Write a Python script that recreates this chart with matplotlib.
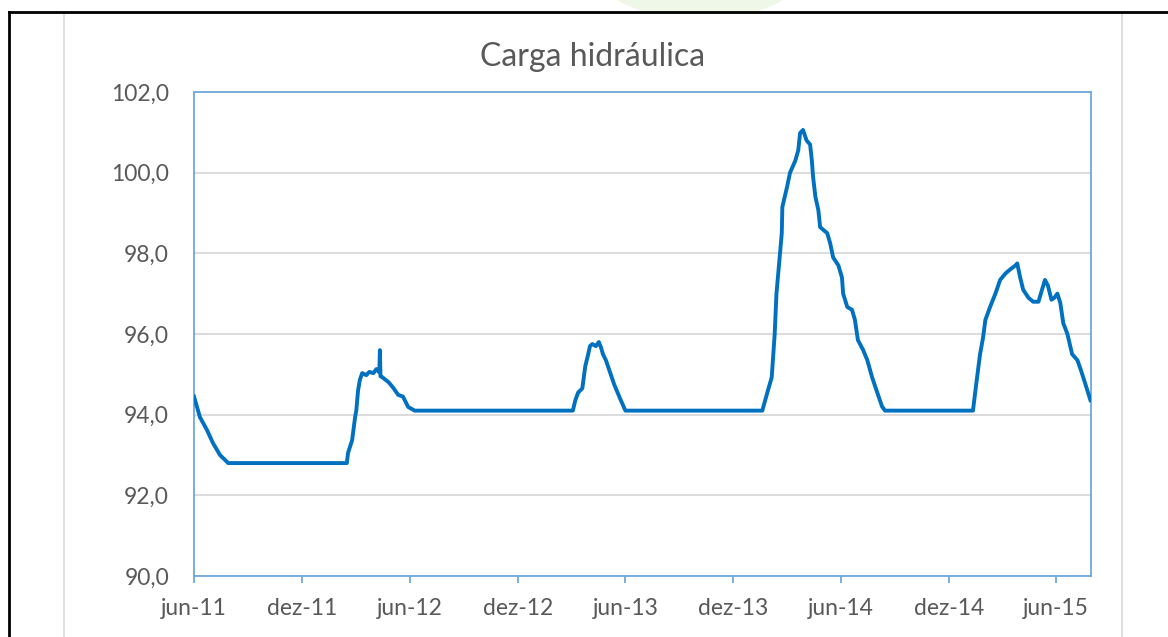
import matplotlib
matplotlib.use("Agg")
import matplotlib.pyplot as plt
import matplotlib.dates as mdates
from matplotlib.patches import Rectangle, Ellipse
from matplotlib.lines import Line2D
from matplotlib.ticker import FuncFormatter
import pandas as pd

# ---- data ----
dates = [
    "2011-06-01", "2011-06-11", "2011-06-23", "2011-07-03", "2011-07-15", "2011-07-29",
    "2012-02-15", "2012-02-17", "2012-02-24", "2012-02-29", "2012-03-02", "2012-03-05",
    "2012-03-08", "2012-03-12", "2012-03-19", "2012-03-24", "2012-03-31", "2012-04-05",
    "2012-04-10", "2012-04-11", "2012-04-12", "2012-04-15", "2012-04-26", "2012-05-04",
    "2012-05-12", "2012-05-20", "2012-05-29", "2012-06-09",
    "2013-03-04", "2013-03-08", "2013-03-13", "2013-03-20", "2013-03-25", "2013-03-30",
    "2013-04-02", "2013-04-06", "2013-04-12", "2013-04-17", "2013-04-21", "2013-04-24",
    "2013-04-29", "2013-05-06", "2013-05-13", "2013-05-23", "2013-06-01",
    "2014-01-19", "2014-01-27", "2014-02-04", "2014-02-09", "2014-02-12", "2014-02-17",
    "2014-02-21", "2014-02-22", "2014-03-02", "2014-03-07", "2014-03-16", "2014-03-21",
    "2014-03-24", "2014-03-29", "2014-04-04", "2014-04-10", "2014-04-13", "2014-04-15",
    "2014-04-19", "2014-04-24", "2014-04-27", "2014-05-09", "2014-05-14", "2014-05-19",
    "2014-05-28", "2014-06-03", "2014-06-05", "2014-06-12", "2014-06-20", "2014-06-25",
    "2014-06-30", "2014-07-09", "2014-07-16", "2014-07-24", "2014-08-02", "2014-08-10",
    "2014-08-15",
    "2015-01-11", "2015-01-16", "2015-01-23", "2015-01-28", "2015-02-01", "2015-02-09",
    "2015-02-18", "2015-02-26", "2015-03-07", "2015-03-15", "2015-03-24", "2015-03-27",
    "2015-04-01", "2015-04-06", "2015-04-15", "2015-04-23", "2015-05-02", "2015-05-08",
    "2015-05-13", "2015-05-18", "2015-05-24", "2015-05-29", "2015-06-03", "2015-06-08",
    "2015-06-13", "2015-06-20", "2015-06-28", "2015-07-07", "2015-07-13", "2015-07-20",
    "2015-07-29",
]
values = [
    94.45, 93.94, 93.62, 93.30, 93.00, 92.80,
    92.80, 93.05, 93.37, 93.94, 94.10, 94.60,
    94.86, 95.03, 94.98, 95.06, 95.03, 95.13,
    95.05, 95.60, 94.95, 94.93, 94.80, 94.66,
    94.49, 94.45, 94.19, 94.10,
    94.10, 94.35, 94.55, 94.65, 95.20, 95.50,
    95.70, 95.75, 95.70, 95.80, 95.65, 95.50,
    95.35, 95.05, 94.75, 94.40, 94.10,
    94.10, 94.52, 94.93, 96.00, 97.00, 97.83,
    98.50, 99.15, 99.65, 100.00, 100.30, 100.56,
    100.98, 101.06, 100.80, 100.70, 100.30, 99.90,
    99.40, 99.07, 98.65, 98.50, 98.25, 97.90,
    97.70, 97.40, 97.00, 96.67, 96.60, 96.35,
    95.85, 95.60, 95.35, 94.93, 94.54, 94.20,
    94.10,
    94.10, 94.70, 95.50, 95.90, 96.35, 96.67,
    97.00, 97.34, 97.50, 97.60, 97.70, 97.75,
    97.40, 97.10, 96.90, 96.80, 96.80, 97.10,
    97.34, 97.20, 96.85, 96.90, 97.00, 96.77,
    96.27, 96.00, 95.50, 95.35, 95.10, 94.78,
    94.36,
]
tick_dates = ["2011-06-01", "2011-12-01", "2012-06-01", "2012-12-01", "2013-06-01",
              "2013-12-01", "2014-06-01", "2014-12-01", "2015-06-01"]
tick_labels = ["jun-11", "dez-11", "jun-12", "dez-12", "jun-13",
               "dez-13", "jun-14", "dez-14", "jun-15"]
y_ticks = [90, 92, 94, 96, 98, 100, 102]
title = "Carga hidráulica"

plt.rcParams['font.family'] = ['Lato', 'DejaVu Sans']

W, H = 1168, 637
fig = plt.figure(figsize=(W / 100, H / 100), dpi=100)
fig.patch.set_facecolor("white")

def px_rect(x0, y0, x1, y1, **kw):
    return Rectangle((x0 / W, 1 - y1 / H), (x1 - x0) / W, (y1 - y0) / H,
                     transform=fig.transFigure, **kw)

fig.patches.append(Ellipse((700 / W, 1 - (-45) / H), 230 / W, 130 / H,
                           transform=fig.transFigure, facecolor="#eef7e8",
                           edgecolor="none", zorder=0))
fig.patches.append(px_rect(64, 13, 1122, 700, facecolor="white",
                           edgecolor="#d9d9d9", linewidth=1.2, zorder=1))
fig.lines.append(Line2D([9 / W, 1.0], [1 - 12 / H, 1 - 12 / H], transform=fig.transFigure,
                        color="black", linewidth=2.0, zorder=2))
fig.lines.append(Line2D([9 / W, 9 / W], [0, 1 - 12 / H], transform=fig.transFigure,
                        color="black", linewidth=2.0, zorder=2))

ax = fig.add_axes([194 / W, 1 - 576 / H, (1091 - 194) / W, (576 - 92) / H])
ax.set_zorder(3)
ax.set_facecolor("white")

x = pd.to_datetime(dates)
ax.plot(x, values, color="#0070c0", linewidth=2.8, solid_joinstyle="round", zorder=3)

ax.set_xlim(pd.Timestamp("2011-06-01"), pd.Timestamp("2015-07-30"))
ax.set_ylim(90, 102)

ax.set_yticks(y_ticks)
ax.yaxis.set_major_formatter(FuncFormatter(lambda v, p: f"{v:.1f}".replace(".", ",")))
ax.set_xticks(pd.to_datetime(tick_dates))
ax.set_xticklabels(tick_labels)

ax.grid(axis="y", color="#d9d9d9", linewidth=1.3, zorder=0)
ax.set_axisbelow(True)

for s in ax.spines.values():
    s.set_color("#6fa8dc")
    s.set_linewidth(1.3)

ax.tick_params(axis="y", length=0, pad=18, labelsize=16.5, labelcolor="#595959")
ax.tick_params(axis="x", length=5, width=1.3, color="#6fa8dc", pad=11,
               labelsize=16.5, labelcolor="#595959", direction="out")

fig.text(593 / W, 1 - 57 / H, title, ha="center", va="center",
         fontsize=23, color="#595959")

fig.savefig("out.png", dpi=100, facecolor="white")
